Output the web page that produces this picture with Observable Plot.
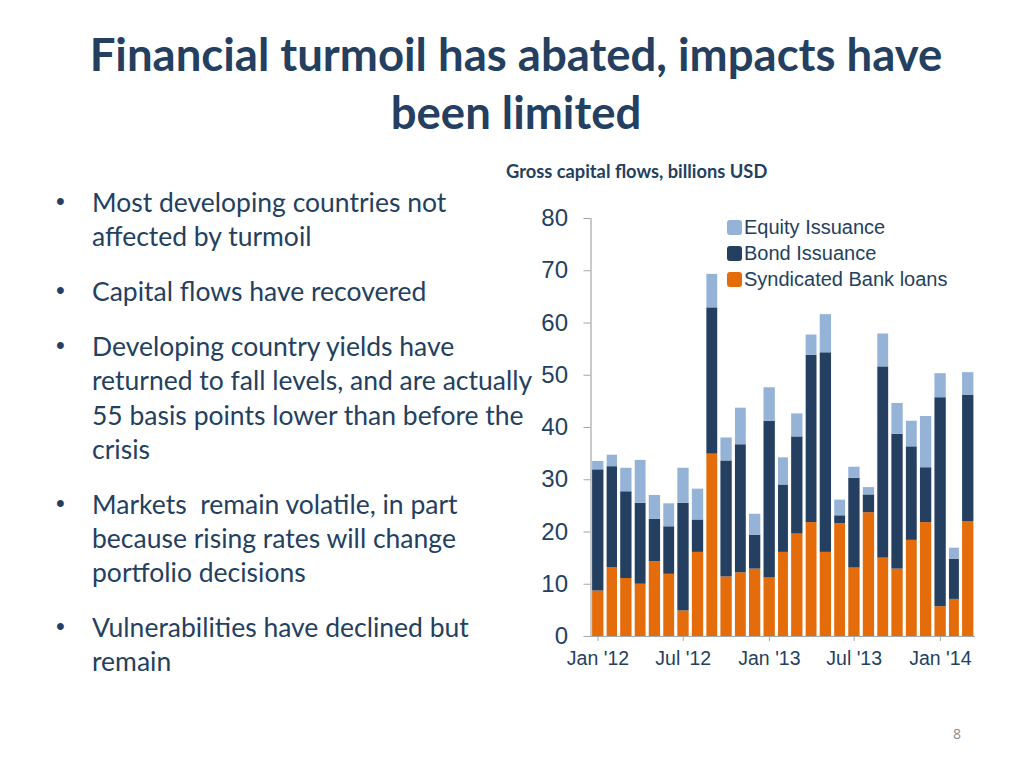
<!DOCTYPE html>
<html>
<head>
<meta charset="utf-8">
<script src="https://cdn.jsdelivr.net/npm/d3@7"></script>
<script src="https://cdn.jsdelivr.net/npm/@observablehq/plot@0.6"></script>
<style>
  html, body { margin: 0; padding: 0; background: #fff; }
  #page { position: relative; width: 1024px; height: 768px; overflow: hidden; font-family: Lato, "Open Sans", sans-serif; color: #243F60; }
  #title { position: absolute; left: 0; width: 1032px; top: 25px; text-align: center; font-weight: bold; font-size: 45.5px; line-height: 58px; color: #243F60; white-space: nowrap; }
  #subtitle { position: absolute; left: 506px; top: 160px; font-weight: bold; font-size: 18.3px; color: #243F60; white-space: nowrap; }
  #bullets { position: absolute; left: 57px; top: 185px; width: 520px; font-size: 26.5px; line-height: 34.2px; color: #243F60; white-space: nowrap; }
  .b { position: relative; padding-left: 35px; margin-bottom: 20.8px; }
  .b::before { content: "•"; position: absolute; left: -1px; top: -1px; font-family: Arial, sans-serif; font-size: 25px; }
  #chart { position: absolute; left: 500px; top: 200px; }
  #legend { position: absolute; left: 727px; top: 214px; font-family: "Liberation Sans", Arial, sans-serif; font-size: 20px; line-height: 26px; color: #243F60; white-space: nowrap; }
  .li { display: flex; align-items: center; }
  .sw { width: 15px; height: 15px; border-radius: 3px; margin-right: 2px; }
  #pnum { position: absolute; left: 953px; top: 724px; font-size: 14px; color: #8c8c8c; font-family: "Open Sans", sans-serif; }
</style>
</head>
<body>
<div id="page">
  <div id="title">Financial turmoil has abated, impacts have<br>been limited</div>
  <div id="subtitle">Gross capital flows, billions USD</div>
  <div id="bullets">
    <div class="b">Most developing countries not<br>affected by turmoil</div>
    <div class="b">Capital flows have recovered</div>
    <div class="b">Developing country yields have<br>returned to fall levels, and are actually<br>55 basis points lower than before the<br>crisis</div>
    <div class="b">Markets&nbsp; remain volatile, in part<br>because rising rates will change<br>portfolio decisions</div>
    <div class="b">Vulnerabilities have declined but<br>remain</div>
  </div>
  <div id="chart"></div>
  <div id="legend"></div>
  <div id="pnum">8</div>
</div>
<script>
// Monthly data, Jan 2012 – Mar 2014
const months = ["2012-01","2012-02","2012-03","2012-04","2012-05","2012-06","2012-07","2012-08","2012-09","2012-10","2012-11","2012-12",
                "2013-01","2013-02","2013-03","2013-04","2013-05","2013-06","2013-07","2013-08","2013-09","2013-10","2013-11","2013-12",
                "2014-01","2014-02","2014-03"];
const syndicatedLoans = [8.7,13.2,11.1,10.0,14.3,11.9,4.9,16.1,34.9,11.4,12.2,12.9,11.2,16.1,19.6,21.8,16.1,21.6,13.1,23.7,15.0,12.9,18.4,21.8,5.7,7.1,22.0];
const bondIssuance    = [23.2,19.3,16.6,15.5,8.1,9.1,20.6,6.2,28.0,22.2,24.5,6.5,30.0,12.9,18.6,32.0,38.2,1.5,17.2,3.4,36.6,25.8,17.9,10.5,40.0,7.7,24.2];
const equityIssuance  = [1.6,2.2,4.5,8.2,4.6,4.4,6.7,5.9,6.4,4.4,7.0,4.0,6.4,5.2,4.4,3.9,7.3,3.0,2.1,1.4,6.3,5.9,4.9,9.8,4.6,2.1,4.3];
const seriesNames = ["Syndicated Bank loans", "Bond Issuance", "Equity Issuance"];
const seriesColors = ["#E46C0A", "#243F60", "#95B3D7"];
const yTicks = [0,10,20,30,40,50,60,70,80];
const xTickLabels = ["Jan '12","Jul '12","Jan '13","Jul '13","Jan '14"];

const parse = d3.utcParse("%Y-%m");
const rows = [];
const cols = [syndicatedLoans, bondIssuance, equityIssuance];
seriesNames.forEach((s, i) => {
  months.forEach((m, j) => rows.push({date: parse(m), series: s, value: cols[i][j]}));
});
const xTicks = [0, 6, 12, 18, 24].map(i => parse(months[i]));

const navy = "#243F60";
const chart = Plot.plot({
  width: 500,
  height: 480,
  marginLeft: 90.5,
  marginRight: 25,
  marginTop: 18,
  marginBottom: 44,
  style: {fontFamily: "'Liberation Sans', Arial, sans-serif", color: navy, background: "transparent", overflow: "visible"},
  x: {type: "utc", domain: [parse("2012-01"), parse("2014-04")]},
  y: {domain: [0, 80]},
  color: {domain: seriesNames, range: seriesColors},
  marks: [
    Plot.rectY(rows, Plot.stackY({x: "date", interval: "month", y: "value", fill: "series", z: "series", order: seriesNames, insetLeft: 1.6, insetRight: 1.6})),
    Plot.ruleX([parse("2012-01")], {stroke: "#a6a6a6", strokeWidth: 1.2}),
    Plot.ruleY([0], {stroke: "#a6a6a6", strokeWidth: 1.2}),
    Plot.axisY({ticks: yTicks, tickSize: 7, tickPadding: 16, stroke: "#a6a6a6", fontSize: 24, fill: navy, label: null}),
    Plot.axisX({ticks: xTicks, tickSize: 5, tickPadding: 10, stroke: "#a6a6a6", fontSize: 19.5, fill: navy, label: null, dx: 7,
      tickFormat: (d, i) => xTickLabels[i]})
  ]
});
document.getElementById("chart").appendChild(chart);

const legend = document.getElementById("legend");
[2, 1, 0].forEach(i => {
  const row = document.createElement("div");
  row.className = "li";
  const sw = document.createElement("span");
  sw.className = "sw";
  sw.style.background = seriesColors[i];
  const t = document.createElement("span");
  t.textContent = seriesNames[i];
  row.appendChild(sw); row.appendChild(t);
  legend.appendChild(row);
});
</script>
</body>
</html>
